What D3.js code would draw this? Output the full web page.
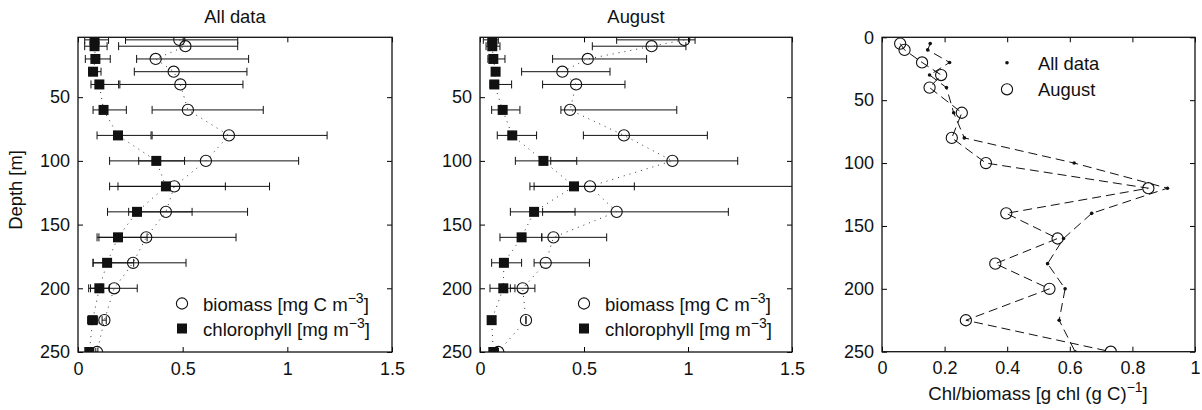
<!DOCTYPE html>
<html>
<head>
<meta charset="utf-8">
<script src="https://cdn.jsdelivr.net/npm/d3@7"></script>
<style>
  body { margin: 0; background: #fff; }
  svg { display: block; }
</style>
</head>
<body>
<svg id="chart"></svg>
<script>
// depths of the samples [m]
const depths = [5, 10, 20, 30, 40, 60, 80, 100, 120, 140, 160, 180, 200, 225, 250];

// All data
const allBio   = [0.484, 0.513, 0.371, 0.457, 0.489, 0.525, 0.721, 0.611, 0.460, 0.420, 0.326, 0.263, 0.173, 0.126, 0.091];
const allBioLo = [0.227, 0.194, 0.280, 0.269, 0.200, 0.354, 0.354, 0.151, 0.151, 0.141, 0.100, 0.072, 0.060, 0.115, 0.085];
const allBioHi = [0.763, 0.763, 0.815, 0.807, 0.788, 0.885, 1.190, 1.054, 0.915, 0.810, 0.755, 0.516, 0.283, 0.135, 0.095];
const allChl   = [0.079, 0.079, 0.083, 0.072, 0.102, 0.122, 0.191, 0.374, 0.420, 0.282, 0.191, 0.139, 0.102, 0.070, 0.054];
const allChlLo = [0.032, 0.032, 0.035, 0.051, 0.062, 0.072, 0.091, 0.290, 0.191, 0.242, 0.091, 0.072, 0.051, 0.046, 0.045];
const allChlHi = [0.146, 0.139, 0.154, 0.110, 0.194, 0.231, 0.349, 0.509, 0.704, 0.545, 0.330, 0.266, 0.150, 0.094, 0.065];

// August
const augBio   = [0.982, 0.825, 0.518, 0.396, 0.462, 0.433, 0.692, 0.925, 0.529, 0.657, 0.353, 0.316, 0.205, 0.221, 0.088];
const augBioLo = [0.657, 0.540, 0.349, 0.200, 0.301, 0.389, 0.497, 0.340, 0.260, 0.301, 0.297, 0.260, 0.146, 0.221, 0.088];
const augBioHi = [1.034, 0.990, 0.801, 0.625, 0.697, 0.946, 1.093, 1.239, 1.650, 1.194, 0.609, 0.526, 0.264, 0.221, 0.088];
const augChl   = [0.059, 0.059, 0.064, 0.075, 0.069, 0.109, 0.155, 0.305, 0.452, 0.260, 0.200, 0.115, 0.112, 0.056, 0.064];
const augChlLo = [0.016, 0.029, 0.038, 0.058, 0.048, 0.056, 0.083, 0.170, 0.240, 0.146, 0.096, 0.056, 0.048, 0.045, 0.055];
const augChlHi = [0.088, 0.096, 0.120, 0.090, 0.152, 0.192, 0.272, 0.465, 0.742, 0.457, 0.297, 0.200, 0.168, 0.070, 0.072];

// Chl/biomass ratio
const ratioAll = [0.154, 0.146, 0.216, 0.152, 0.206, 0.229, 0.263, 0.614, 0.912, 0.670, 0.580, 0.529, 0.585, 0.566, 0.617];
const ratioAug = [0.058, 0.072, 0.128, 0.189, 0.152, 0.255, 0.223, 0.332, 0.851, 0.397, 0.561, 0.362, 0.535, 0.268, 0.731];

const depthTicks = [50, 100, 150, 200, 250];
const depthTicksFull = [0, 50, 100, 150, 200, 250];
const concTicks = [0, 0.5, 1, 1.5];
const ratioTicks = [0, 0.2, 0.4, 0.6, 0.8, 1];

const size = {width: 1202, height: 410};
const FONT = "'Liberation Sans', Arial, Helvetica, sans-serif";

const svg = d3.select("#chart")
    .attr("width", size.width)
    .attr("height", size.height)
    .style("font-family", FONT);

function makePanel(id, x0, x1, y0, y1, xDomain, yDomain, xTicks, yTicks) {
    const x = d3.scaleLinear().domain(xDomain).range([x0, x1]);
    const y = d3.scaleLinear().domain(yDomain).range([y0, y1]);
    const g = svg.append("g");

    svg.append("clipPath").attr("id", "clip" + id)
        .append("rect")
        .attr("x", x0).attr("y", y0)
        .attr("width", x1 - x0).attr("height", y1 - y0);

    const axes = [
        [d3.axisBottom(x).tickValues(xTicks).tickFormat(d => String(d)).tickPadding(10), "translate(0," + y1 + ")"],
        [d3.axisTop(x).tickValues(xTicks).tickFormat(""), "translate(0," + y0 + ")"],
        [d3.axisLeft(y).tickValues(yTicks).tickFormat(d => String(d)).tickPadding(8), "translate(" + x0 + ",0)"],
        [d3.axisRight(y).tickValues(yTicks).tickFormat(""), "translate(" + x1 + ",0)"]
    ];
    axes.forEach(function(a) {
        const ax = g.append("g")
            .attr("transform", a[1])
            .call(a[0].tickSizeInner(-5).tickSizeOuter(0));
        ax.select(".domain").remove();
        ax.attr("font-size", 18).attr("font-family", FONT);
        ax.selectAll("line").attr("stroke", "#000");
        ax.selectAll("text").attr("fill", "#111");
    });

    g.append("rect")
        .attr("x", x0).attr("y", y0)
        .attr("width", x1 - x0).attr("height", y1 - y0)
        .attr("fill", "none")
        .attr("stroke", "#111")
        .attr("stroke-width", 1.3);

    const plot = svg.append("g").attr("clip-path", "url(#clip" + id + ")");
    return {x: x, y: y, plot: plot};
}

function errorBars(p, lo, hi) {
    const rows = depths.map((d, i) => ({d: d, lo: lo[i], hi: hi[i]}));
    const eb = p.plot.append("g").attr("stroke", "#111").attr("stroke-width", 1);
    eb.selectAll(".bar").data(rows).enter().append("line")
        .attr("x1", r => p.x(r.lo)).attr("x2", r => p.x(r.hi))
        .attr("y1", r => p.y(r.d)).attr("y2", r => p.y(r.d));
    [lo, hi].forEach(function(arr) {
        eb.selectAll(null).data(rows).enter().append("line")
            .attr("x1", (r, i) => p.x(arr[i])).attr("x2", (r, i) => p.x(arr[i]))
            .attr("y1", r => p.y(r.d) - 4).attr("y2", r => p.y(r.d) + 4);
    });
}

function profileLine(p, vals, dash, color) {
    const line = d3.line().x((d, i) => p.x(vals[i])).y(d => p.y(d));
    p.plot.append("path")
        .datum(depths)
        .attr("d", line)
        .attr("fill", "none")
        .attr("stroke", color)
        .attr("stroke-width", 1)
        .attr("stroke-dasharray", dash);
}

function squares(p, vals) {
    p.plot.append("g").selectAll("rect").data(depths).enter().append("rect")
        .attr("x", (d, i) => p.x(vals[i]) - 5)
        .attr("y", d => p.y(d) - 5)
        .attr("width", 10).attr("height", 10)
        .attr("fill", "#111");
}

function circles(p, vals) {
    p.plot.append("g").selectAll("circle").data(depths).enter().append("circle")
        .attr("cx", (d, i) => p.x(vals[i]))
        .attr("cy", d => p.y(d))
        .attr("r", 5.6)
        .attr("fill", "none")
        .attr("stroke", "#111")
        .attr("stroke-width", 1.1);
}

function dots(p, vals) {
    p.plot.append("g").selectAll("circle").data(depths).enter().append("circle")
        .attr("cx", (d, i) => p.x(vals[i]))
        .attr("cy", d => p.y(d))
        .attr("r", 1.8)
        .attr("fill", "#111");
}

function supText(x, y, anchor, before, sup, after) {
    const t = svg.append("text")
        .attr("x", x).attr("y", y)
        .attr("text-anchor", anchor)
        .attr("font-size", 18.6)
        .attr("fill", "#111");
    t.append("tspan").text(before);
    t.append("tspan").attr("dy", -8).attr("font-size", 14).text(sup);
    t.append("tspan").attr("dy", 8).text(after);
}

function title(x, y, s) {
    svg.append("text")
        .attr("x", x).attr("y", y)
        .attr("text-anchor", "middle")
        .attr("font-size", 18.4)
        .attr("fill", "#111")
        .text(s);
}

function concLegend(x0) {
    const cx = x0 + 104;
    svg.append("circle").attr("cx", cx).attr("cy", 303.5).attr("r", 5.6)
        .attr("fill", "none").attr("stroke", "#111").attr("stroke-width", 1.1);
    svg.append("rect").attr("x", cx - 5).attr("y", 323.5).attr("width", 10).attr("height", 10)
        .attr("fill", "#111");
    supText(cx + 21, 310.5, "start", "biomass [mg C m", "\u22123", "]");
    supText(cx + 21, 335.5, "start", "chlorophyll [mg m", "\u22123", "]");
}

// Panel 1: All data
const p1 = makePanel("a", 78, 392, 37.3, 352, [0, 1.5], [3, 250], concTicks, depthTicks);
errorBars(p1, allBioLo, allBioHi);
errorBars(p1, allChlLo, allChlHi);
profileLine(p1, allBio, "1,5", "#333");
profileLine(p1, allChl, "1,5", "#333");
squares(p1, allChl);
circles(p1, allBio);
title(235, 23, "All data");
concLegend(78);

// Panel 2: August
const p2 = makePanel("b", 480, 792, 37.3, 352, [0, 1.5], [3, 250], concTicks, depthTicks);
errorBars(p2, augBioLo, augBioHi);
errorBars(p2, augChlLo, augChlHi);
profileLine(p2, augBio, "1,5", "#333");
profileLine(p2, augChl, "1,5", "#333");
squares(p2, augChl);
circles(p2, augBio);
title(636, 23, "August");
concLegend(480);

// Panel 3: ratio
const p3 = makePanel("c", 882, 1195, 37.3, 351.7, [0, 1], [0, 250], ratioTicks, depthTicksFull);
profileLine(p3, ratioAll, "9,5", "#111");
profileLine(p3, ratioAug, "9,5", "#111");
dots(p3, ratioAll);
circles(p3, ratioAug);

svg.append("circle").attr("cx", 1007).attr("cy", 62.7).attr("r", 1.8).attr("fill", "#111");
svg.append("circle").attr("cx", 1007).attr("cy", 89.3).attr("r", 5.6)
    .attr("fill", "none").attr("stroke", "#111").attr("stroke-width", 1.1);
svg.append("text").attr("x", 1038).attr("y", 69.5).attr("font-size", 18.4).attr("fill", "#111").text("All data");
svg.append("text").attr("x", 1038).attr("y", 96).attr("font-size", 18.4).attr("fill", "#111").text("August");

supText(1038, 400, "middle", "Chl/biomass [g chl (g C)", "\u22121", "]");

// y label
svg.append("text")
    .attr("transform", "translate(22,190) rotate(-90)")
    .attr("text-anchor", "middle")
    .attr("font-size", 18.4)
    .attr("fill", "#111")
    .text("Depth [m]");
</script>
</body>
</html>
